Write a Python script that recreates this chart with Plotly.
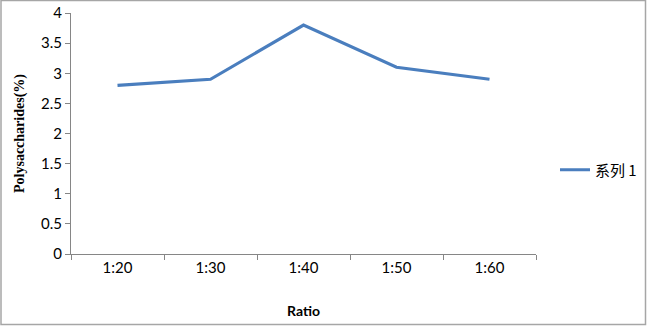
import plotly.graph_objects as go

categories = ["1:20", "1:30", "1:40", "1:50", "1:60"]
values = [2.8, 2.9, 3.8, 3.1, 2.9]
y_ticks = [0, 0.5, 1, 1.5, 2, 2.5, 3, 3.5, 4]
y_tick_labels = ["0", "0.5", "1", "1.5", "2", "2.5", "3", "3.5", "4"]
series_name = "系列 1"

W, H = 647, 326
L, R, T, B = 71, 111, 13, 72
pw, ph = W - L - R, H - T - B

fig = go.Figure()
fig.add_trace(go.Scatter(
    x=categories, y=values, mode="lines", name=series_name,
    line=dict(color="#4A7EBE", width=3.2),
))

axis_font = dict(family="Lato, Liberation Sans, sans-serif", size=15, color="#000000")

fig.update_layout(
    width=W, height=H,
    margin=dict(l=L, r=R, t=T, b=B, pad=0, autoexpand=False),
    paper_bgcolor="white", plot_bgcolor="white",
    showlegend=True,
    legend=dict(
        x=(555 - L) / pw, y=(254 - 170) / ph, xanchor="left", yanchor="middle",
        font=dict(family="Noto Sans CJK SC, sans-serif", size=15, color="#000000"),
        itemwidth=30, bgcolor="rgba(0,0,0,0)",
    ),
    xaxis=dict(
        type="category", range=[-0.5, 4.5], tickson="boundaries",
        showline=True, linecolor="#868686", linewidth=1,
        ticks="outside", ticklen=5, tickcolor="#868686",
        showgrid=False, zeroline=False, automargin=False,
        tickfont=axis_font,
        title=dict(text="<b>Ratio</b>", font=dict(family="Lato, Liberation Sans, sans-serif", size=14, color="#000000"), standoff=31),
    ),
    yaxis=dict(
        range=[0, 4], tickvals=y_ticks, ticktext=y_tick_labels,
        showline=True, linecolor="#868686", linewidth=1,
        ticks="outside", ticklen=5, tickcolor="#868686",
        showgrid=False, zeroline=False, automargin=False,
        tickfont=axis_font,
        title=dict(text="<b>Polysaccharides(%)</b>", font=dict(family="Liberation Serif, serif", size=14, color="#000000"), standoff=13),
    ),
)

fig.add_shape(
    type="rect", xref="paper", yref="paper",
    x0=(1 - L) / pw, x1=(645.5 - L) / pw,
    y0=(T + ph - 324.5) / ph, y1=(T + ph - 0.5) / ph,
    line=dict(color="#A6A6A6", width=1.5), fillcolor="rgba(0,0,0,0)",
    layer="below",
)

fig.write_html(
    "out.html",
    config={"displayModeBar": False},
    post_script="document.body.style.margin='0';document.body.style.overflow='hidden';",
)
